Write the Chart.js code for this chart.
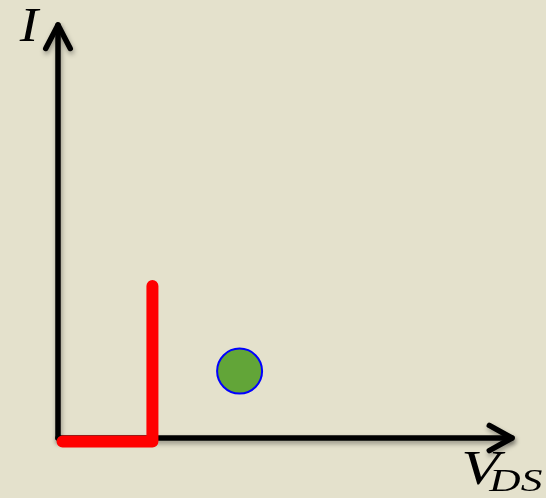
<!DOCTYPE html>
<html>
<head>
<meta charset="utf-8">
<script src="https://cdn.jsdelivr.net/npm/chart.js@4"></script>
<style>
  html, body { margin: 0; padding: 0; background: #e4e1cc; }
  #plot { display: block; }
</style>
</head>
<body>
<canvas id="plot" width="546" height="498"></canvas>
<script>
// axis extents (V_DS along x, I along y), origin at 0,0
const xAxisLine = [[0, 0], [10.0, 0]];
const yAxisLine = [[0, 0], [0, 10.87]];
const xArrowHead = [[9.5, 0.33], [10.0, 0], [9.5, -0.33]];
const yArrowHead = [[-0.27, 10.25], [0, 10.87], [0.27, 10.25]];

// the red operating path
const pathVds = [0.1, 2.08, 2.08];
const pathI = [-0.09, -0.09, 4.0];

// the single green point
const pointVds = [4.0];
const pointI = [1.76];

// axis labels and where they sit
const labelI = { text: 'I', x: -0.6, y: 10.45 };
const labelV = { text: 'V', sub: 'DS', x: 8.88, y: -1.21, subX: 9.5, subY: -1.4 };

const toXY = (xs, ys) => xs.map((x, i) => ({ x: x, y: ys[i] }));
const pairs = arr => arr.map(p => ({ x: p[0], y: p[1] }));

const axisStyle = {
  showLine: true,
  borderColor: '#000000',
  borderWidth: 5.5,
  borderCapStyle: 'round',
  borderJoinStyle: 'round',
  pointRadius: 0,
  shadow: true,
  order: 2
};

// soft drop shadow under the axes
const shadowPlugin = {
  id: 'shadow',
  beforeDatasetDraw(chart, args) {
    const ctx = chart.ctx;
    ctx.save();
    if (args.meta._dataset.shadow) {
      ctx.shadowColor = 'rgba(0,0,0,0.35)';
      ctx.shadowBlur = 5;
      ctx.shadowOffsetX = 1;
      ctx.shadowOffsetY = 3;
    }
  },
  afterDatasetDraw(chart) {
    chart.ctx.restore();
  }
};

// wide italic glyphs, stretched sideways from their left edge
function wideText(ctx, text, x, y, stretch) {
  ctx.save();
  ctx.translate(x, y);
  ctx.scale(stretch, 1);
  ctx.fillText(text, 0, 0);
  ctx.restore();
}

// italic math-style labels on the axes
const labelPlugin = {
  id: 'mathLabels',
  afterDatasetsDraw(chart) {
    const ctx = chart.ctx;
    const sx = chart.scales.x, sy = chart.scales.y;
    ctx.save();
    ctx.fillStyle = '#000000';
    ctx.textBaseline = 'alphabetic';
    ctx.textAlign = 'left';
    ctx.font = 'italic 48px "Liberation Serif"';
    wideText(ctx, labelI.text, sx.getPixelForValue(labelI.x) - 11, sy.getPixelForValue(labelI.y), 1.15);
    wideText(ctx, labelV.text, sx.getPixelForValue(labelV.x), sy.getPixelForValue(labelV.y), 1.3);
    ctx.font = 'italic 31px "Liberation Serif"';
    wideText(ctx, labelV.sub, sx.getPixelForValue(labelV.subX), sy.getPixelForValue(labelV.subY), 1.4);
    ctx.restore();
  }
};

new Chart(document.getElementById('plot'), {
  type: 'scatter',
  data: {
    datasets: [
      Object.assign({ data: pairs(xAxisLine) }, axisStyle),
      Object.assign({ data: pairs(yAxisLine) }, axisStyle),
      Object.assign({ data: pairs(xArrowHead) }, axisStyle),
      Object.assign({ data: pairs(yArrowHead) }, axisStyle),
      {
        data: toXY(pathVds, pathI),
        showLine: true,
        borderColor: '#ff0000',
        borderWidth: 12,
        borderCapStyle: 'round',
        borderJoinStyle: 'round',
        pointRadius: 0,
        order: 1
      },
      {
        data: toXY(pointVds, pointI),
        pointRadius: 22.5,
        pointBackgroundColor: '#62a538',
        pointBorderColor: '#0000ff',
        pointBorderWidth: 2,
        order: 0
      }
    ]
  },
  options: {
    responsive: false,
    animation: false,
    events: [],
    layout: { padding: 0, autoPadding: false },
    plugins: {
      legend: { display: false },
      tooltip: { enabled: false }
    },
    scales: {
      x: { type: 'linear', display: false, min: -1.2775, max: 10.749 },
      y: { type: 'linear', display: false, min: -1.579, max: 11.526 }
    }
  },
  plugins: [shadowPlugin, labelPlugin]
});
</script>
</body>
</html>
